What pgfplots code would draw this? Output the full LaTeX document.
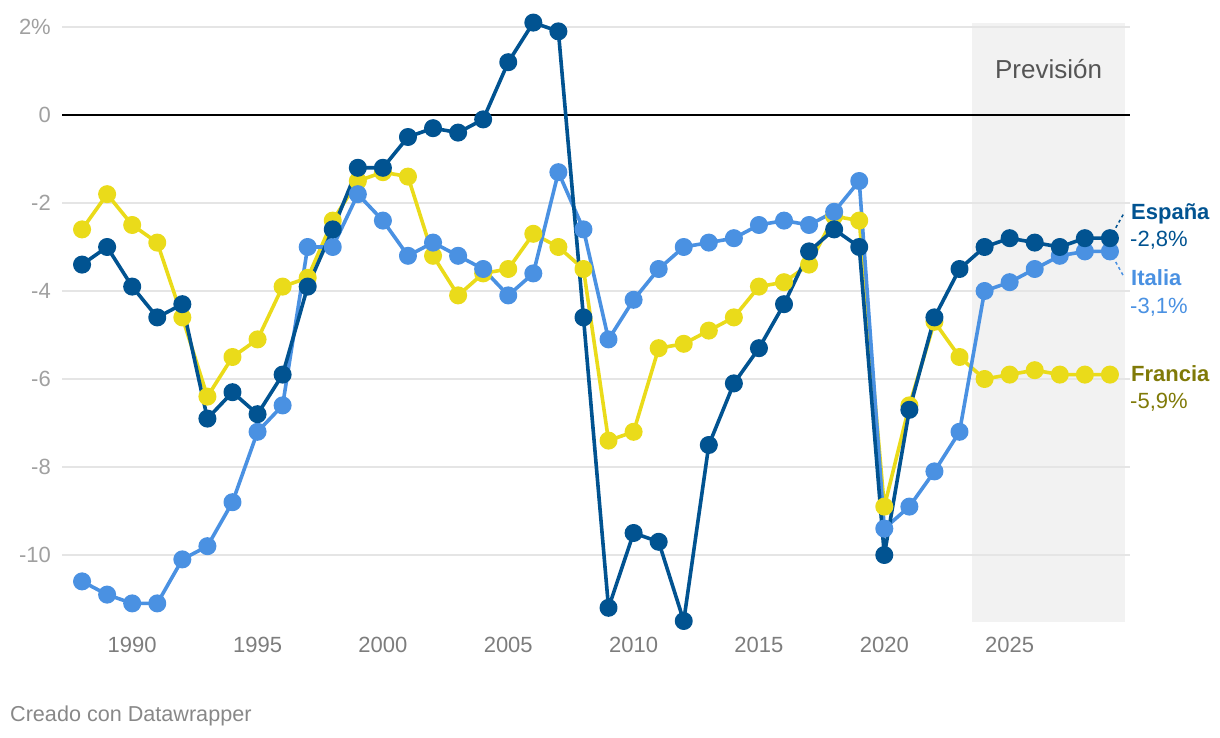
\documentclass[border=0pt]{standalone}
\usepackage{fontspec}
\setmainfont{Liberation Sans}
\usepackage{pgfplots}
\usepackage{pgfplotstable}
\pgfplotsset{compat=1.18}
\definecolor{esp}{RGB}{1,83,145}
\definecolor{ita}{RGB}{74,145,226}
\definecolor{fra}{RGB}{234,219,26}
\definecolor{fralab}{RGB}{128,122,8}
\definecolor{gridc}{RGB}{229,229,229}
\definecolor{shadec}{RGB}{242,242,242}
\definecolor{ylab}{RGB}{160,160,160}
\definecolor{xlab}{RGB}{125,125,125}
\definecolor{prevc}{RGB}{85,85,85}
\definecolor{credc}{RGB}{136,136,136}

\pgfplotstableread{
year esp fra ita
1988 -3.4 -2.6 -10.6
1989 -3.0 -1.8 -10.9
1990 -3.9 -2.5 -11.1
1991 -4.6 -2.9 -11.1
1992 -4.3 -4.6 -10.1
1993 -6.9 -6.4 -9.8
1994 -6.3 -5.5 -8.8
1995 -6.8 -5.1 -7.2
1996 -5.9 -3.9 -6.6
1997 -3.9 -3.7 -3.0
1998 -2.6 -2.4 -3.0
1999 -1.2 -1.5 -1.8
2000 -1.2 -1.3 -2.4
2001 -0.5 -1.4 -3.2
2002 -0.3 -3.2 -2.9
2003 -0.4 -4.1 -3.2
2004 -0.1 -3.6 -3.5
2005 1.2 -3.5 -4.1
2006 2.1 -2.7 -3.6
2007 1.9 -3.0 -1.3
2008 -4.6 -3.5 -2.6
2009 -11.2 -7.4 -5.1
2010 -9.5 -7.2 -4.2
2011 -9.7 -5.3 -3.5
2012 -11.5 -5.2 -3.0
2013 -7.5 -4.9 -2.9
2014 -6.1 -4.6 -2.8
2015 -5.3 -3.9 -2.5
2016 -4.3 -3.8 -2.4
2017 -3.1 -3.4 -2.5
2018 -2.6 -2.3 -2.2
2019 -3.0 -2.4 -1.5
2020 -10.0 -8.9 -9.4
2021 -6.7 -6.6 -8.9
2022 -4.6 -4.7 -8.1
2023 -3.5 -5.5 -7.2
2024 -3.0 -6.0 -4.0
2025 -2.8 -5.9 -3.8
2026 -2.9 -5.8 -3.5
2027 -3.0 -5.9 -3.2
2028 -2.8 -5.9 -3.1
2029 -2.8 -5.9 -3.1
}\data

\begin{document}
\begin{tikzpicture}[x=1pt,y=1pt]
\path (0,0) rectangle (1220,738);
\begin{axis}[
  set layers,
  scale only axis,
  width=1068pt, height=607.2pt,
  at={(62pt,112.6pt)}, anchor=south west,
  xmin=1987.2, xmax=2029.8, ymin=-11.6, ymax=2.2,
  axis line style={draw=none},
  major tick length=0pt,
  tick style={draw=none},
  ytick={-10,-8,-6,-4,-2,0,2},
  yticklabels={-10,-8,-6,-4,-2,0,2\%},
  xtick={1990,1995,2000,2005,2010,2015,2020,2025},
  xticklabels={1990,1995,2000,2005,2010,2015,2020,2025},
  ymajorgrids,
  grid style={gridc, line width=2pt},
  yticklabel style={anchor=east, inner sep=0pt, xshift=-11pt, text=ylab, font=\fontsize{22}{26}\selectfont},
  xticklabel style={anchor=north, inner sep=0pt, yshift=-12pt, text=xlab, font=\fontsize{22}{26}\selectfont},
  clip=false,
  every axis plot/.append style={line width=3.6pt, line join=round, line cap=round, mark=*, mark size=7.2pt, mark options={solid, line width=0.5pt}},
]
\begin{pgfonlayer}{axis background}
\fill[shadec] (axis cs:2023.5,-11.52) rectangle (axis cs:2029.6,2.1);
\end{pgfonlayer}
\node[text=prevc, font=\fontsize{26}{30}\selectfont] at (axis cs:2026.55,1.05) {Previsión};
\draw[black, line width=2pt] (axis cs:1987.2,0) -- (axis cs:2029.8,0);
\draw[esp, line width=1.5pt, dash pattern=on 3pt off 3pt] (axis cs:2029,-2.8) -- (axis cs:2029.56,-2.23);
\draw[ita, line width=1.5pt, dash pattern=on 3pt off 3pt] (axis cs:2029,-3.1) -- (axis cs:2029.56,-3.68);
\addplot[fra, mark options={fill=fra, draw=fra}] table[x=year, y=fra] {\data};
\addplot[ita, mark options={fill=ita, draw=ita}] table[x=year, y=ita] {\data};
\addplot[esp, mark options={fill=esp, draw=esp}] table[x=year, y=esp] {\data};
\end{axis}
\begin{scope}[every node/.style={anchor=base west, inner sep=0pt}]
\node[text=esp, font=\fontsize{22}{26}\selectfont\bfseries] at (1131,518) {España};
\node[text=esp, font=\fontsize{22}{26}\selectfont] at (1130,491) {-2,8\%};
\node[text=ita, font=\fontsize{22}{26}\selectfont\bfseries] at (1131,452) {Italia};
\node[text=ita, font=\fontsize{22}{26}\selectfont] at (1130,424.7) {-3,1\%};
\node[text=fralab, font=\fontsize{22}{26}\selectfont\bfseries] at (1131,356.3) {Francia};
\node[text=fralab, font=\fontsize{22}{26}\selectfont] at (1130,329.7) {-5,9\%};
\node[text=credc, font=\fontsize{21.6}{25}\selectfont] at (10,16) {Creado con Datawrapper};
\end{scope}
\pgfresetboundingbox
\useasboundingbox (0,0) rectangle (1220,738);
\end{tikzpicture}
\end{document}
